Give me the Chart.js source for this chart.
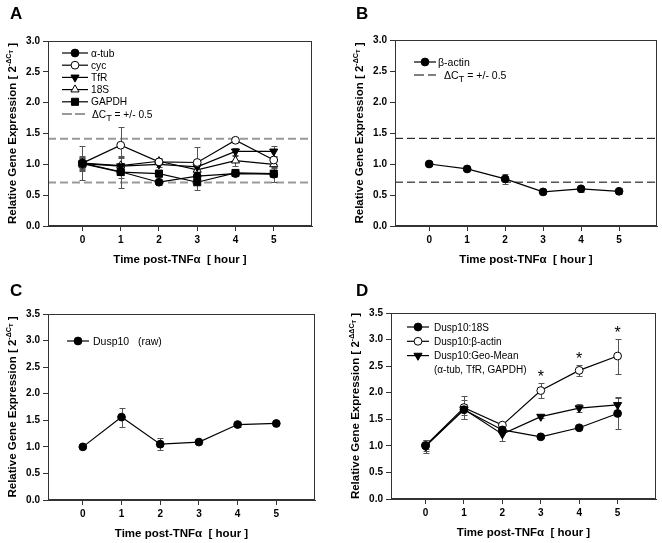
<!DOCTYPE html>
<html><head><meta charset="utf-8">
<script src="https://cdn.jsdelivr.net/npm/chart.js@4/dist/chart.umd.min.js"></script>
<style>
html,body{margin:0;padding:0;background:#fff;}
#wrap{position:relative;width:662px;height:543px;overflow:hidden;background:#fff;}
canvas{position:absolute;}
</style></head><body>
<div id="wrap">
<canvas id="cA" width="331" height="271" style="left:0;top:0"></canvas>
<canvas id="cB" width="331" height="271" style="left:331px;top:0"></canvas>
<canvas id="cC" width="331" height="272" style="left:0;top:271px"></canvas>
<canvas id="cD" width="331" height="272" style="left:331px;top:271px"></canvas>
</div>
<script>
// ---------- data ----------
const hours = [0, 1, 2, 3, 4, 5];
const xTickLabels = ['0', '1', '2', '3', '4', '5'];
const xMin = -0.9, xMax = 6;

// Panel A: reference genes (2^-dCT)
const aTub     = [1.02, 0.88, 0.71, 0.81, 0.85, 0.84];
const aTubErr  = [0.08, 0.26, 0.05, 0.06, 0.04, 0.12];
const cyc      = [1.02, 1.31, 1.04, 1.03, 1.39, 1.07];
const cycErr   = [0.27, 0.29, 0.04, 0.25, 0.03, 0.06];
const tfr      = [1.01, 0.97, 1.00, 0.96, 1.21, 1.21];
const tfrErr   = [0.10, 0.15, 0.05, 0.08, 0.06, 0.09];
const s18      = [1.02, 0.98, 1.05, 0.91, 1.06, 1.00];
const s18Err   = [0.10, 0.12, 0.05, 0.10, 0.08, 0.06];
const gapdh    = [1.01, 0.875, 0.85, 0.71, 0.86, 0.85];
const gapdhErr = [0.12, 0.10, 0.05, 0.13, 0.05, 0.06];
const deltaCtBand = [1.414, 0.707];

// Panel B
const bActin    = [1.00, 0.92, 0.76, 0.55, 0.60, 0.56];
const bActinErr = [0.04, 0.02, 0.08, 0.04, 0.05, 0.05];

// Panel C
const dusp10Raw    = [1.00, 1.56, 1.05, 1.09, 1.42, 1.44];
const dusp10RawErr = [0.02, 0.18, 0.11, 0.02, 0.05, 0.02];

// Panel D (2^-ddCT)
const d18S      = [1.00, 1.68, 1.30, 1.17, 1.34, 1.61];
const d18SErr   = [0.06, 0.10, 0.05, 0.03, 0.03, 0.29];
const dActin    = [1.01, 1.72, 1.39, 2.04, 2.42, 2.69];
const dActinErr = [0.10, 0.22, 0.04, 0.14, 0.10, 0.33];
const dGeo      = [0.99, 1.69, 1.22, 1.55, 1.71, 1.77];
const dGeoErr   = [0.12, 0.18, 0.13, 0.03, 0.08, 0.14];
const significant = [false, false, false, true, true, true];

// ---------- styles ----------
const FONT = '"Liberation Sans", Arial, Helvetica, sans-serif';
const AXIS = '#333';
const ST = {
  filledCircle: {pointStyle:'circle', pointRadius:3.9, pointBackgroundColor:'#000'},
  openCircle:   {pointStyle:'circle', pointRadius:3.9, pointBackgroundColor:'#fff'},
  downTri:      {pointStyle:'triangle', pointRadius:4.7, pointRotation:180, pointBackgroundColor:'#000'},
  upTriOpen:    {pointStyle:'triangle', pointRadius:4.7, pointRotation:0, pointBackgroundColor:'#fff'},
  square:       {pointStyle:'rect', pointRadius:5, pointBackgroundColor:'#000'}
};

function series(label, vals, errs, style) {
  return Object.assign({
    label, data: hours.map((h, i) => ({x: h, y: vals[i]})), errors: errs,
    borderColor: '#000', borderWidth: 1.2, pointBorderColor: '#000', pointBorderWidth: 1,
    pointHoverRadius: 4, tension: 0, fill: false
  }, style);
}

function drawMarker(ctx, ds, x, y) {
  const r = ds.pointRadius, st = ds.pointStyle;
  ctx.save();
  ctx.fillStyle = ds.pointBackgroundColor; ctx.strokeStyle = '#000'; ctx.lineWidth = ds.pointBorderWidth || 1;
  ctx.beginPath();
  if (st === 'circle') ctx.arc(x, y, r, 0, Math.PI * 2);
  else if (st === 'rect') { const s = r * Math.SQRT1_2; ctx.rect(x - s, y - s, 2 * s, 2 * s); }
  else if (st === 'triangle') {
    let a = (ds.pointRotation || 0) * Math.PI / 180;
    ctx.moveTo(x + Math.sin(a) * r, y - Math.cos(a) * r);
    a += 2 * Math.PI / 3; ctx.lineTo(x + Math.sin(a) * r, y - Math.cos(a) * r);
    a += 2 * Math.PI / 3; ctx.lineTo(x + Math.sin(a) * r, y - Math.cos(a) * r);
    ctx.closePath();
  }
  ctx.fill(); ctx.stroke(); ctx.restore();
}

// draw text made of parts with scale (s) and em-offset (dy); align 'left' or 'center'
function drawParts(ctx, parts, x, baseY, size, bold, align) {
  const w = parts.map(p => { ctx.font = (bold ? 'bold ' : '') + (size * (p.s || 1)) + 'px ' + FONT; return ctx.measureText(p.t).width; });
  const total = w.reduce((a, b) => a + b, 0);
  let cx = align === 'center' ? x - total / 2 : x;
  ctx.textBaseline = 'alphabetic'; ctx.textAlign = 'left'; ctx.fillStyle = '#000';
  parts.forEach((p, i) => {
    ctx.font = (bold ? 'bold ' : '') + (size * (p.s || 1)) + 'px ' + FONT;
    ctx.fillText(p.t, cx, baseY + (p.dy || 0) * size);
    cx += w[i];
  });
}

const panelPlugin = {
  id: 'panel',
  beforeDatasetsDraw(chart, args, o) {
    const {ctx, chartArea: ca, scales: {x, y}} = chart;
    if (o.refLines) {
      ctx.save();
      ctx.beginPath(); ctx.rect(ca.left, ca.top, ca.right - ca.left, ca.bottom - ca.top); ctx.clip();
      ctx.strokeStyle = o.refColor; ctx.lineWidth = o.refWidth; ctx.setLineDash(o.refDash);
      o.refLines.forEach(v => {
        const py = y.getPixelForValue(v);
        ctx.beginPath(); ctx.moveTo(ca.left, py); ctx.lineTo(ca.right, py); ctx.stroke();
      });
      ctx.restore();
    }
    ctx.save(); ctx.strokeStyle = '#555'; ctx.lineWidth = 1;
    chart.data.datasets.forEach(ds => {
      if (!ds.errors) return;
      ds.data.forEach((p, i) => {
        const e = ds.errors[i]; if (!e) return;
        const px = Math.round(x.getPixelForValue(p.x)) + 0.5;
        const y1 = Math.round(y.getPixelForValue(p.y + e)) + 0.5, y2 = Math.round(y.getPixelForValue(p.y - e)) + 0.5;
        ctx.beginPath();
        ctx.moveTo(px, y1); ctx.lineTo(px, y2);
        ctx.moveTo(px - 3, y1); ctx.lineTo(px + 3, y1);
        ctx.moveTo(px - 3, y2); ctx.lineTo(px + 3, y2);
        ctx.stroke();
      });
    });
    ctx.restore();
  },
  afterDraw(chart, args, o) {
    const {ctx, chartArea: ca, scales: {x, y}} = chart;
    ctx.save();
    // box
    ctx.strokeStyle = AXIS; ctx.lineWidth = 1;
    ctx.strokeRect(Math.round(ca.left) + 0.5, Math.round(ca.top) + 0.5, Math.round(ca.right - ca.left) - 1, Math.round(ca.bottom - ca.top) - 1);
    // panel letter
    ctx.fillStyle = '#000'; ctx.font = 'bold 17px ' + FONT; ctx.textAlign = 'left'; ctx.textBaseline = 'alphabetic';
    ctx.fillText(o.letter, o.letterX, o.letterY);
    // x title
    drawParts(ctx, [{t: 'Time post-TNF\u03b1  [ hour ]'}], (ca.left + ca.right) / 2, ca.bottom + 37, 11.5, true, 'center');
    // y title
    ctx.save();
    ctx.translate(ca.left - 32, (ca.top + ca.bottom) / 2);
    ctx.rotate(-Math.PI / 2);
    drawParts(ctx, o.yTitle, 0, 0, 11.5, true, 'center');
    ctx.restore();
    // legend
    const L = o.legend;
    L.items.forEach((it, i) => {
      const cy = L.y0 + i * L.dy;
      const base = cy + 0.35 * L.size;
      if (it.ds !== undefined) {
        const ds = chart.data.datasets[it.ds];
        ctx.strokeStyle = '#000'; ctx.lineWidth = 1.2; ctx.setLineDash([]);
        ctx.beginPath(); ctx.moveTo(L.x1, cy); ctx.lineTo(L.x2, cy); ctx.stroke();
        drawMarker(ctx, ds, L.mx, cy);
        drawParts(ctx, [{t: ds.label}], L.tx, base, L.size, false, 'left');
      } else if (it.dashed) {
        ctx.strokeStyle = o.refColor; ctx.lineWidth = o.refWidth; ctx.setLineDash(it.dash);
        ctx.beginPath(); ctx.moveTo(L.x1, cy); ctx.lineTo(it.dx2, cy); ctx.stroke();
        ctx.setLineDash([]);
        drawParts(ctx, it.parts, it.tx, base, L.size, false, 'left');
      } else {
        drawParts(ctx, [{t: it.text}], L.tx, base, L.size, false, 'left');
      }
    });
    // significance stars
    if (o.stars) {
      const ds = chart.data.datasets[o.stars.ds];
      ctx.font = '16px ' + FONT; ctx.textAlign = 'center'; ctx.textBaseline = 'alphabetic'; ctx.fillStyle = '#000';
      ds.data.forEach((p, i) => {
        if (!o.stars.flags[i]) return;
        const px = x.getPixelForValue(p.x);
        const py = y.getPixelForValue(p.y + ds.errors[i]);
        ctx.fillText('*', px, py - 1);
      });
    }
    ctx.restore();
  }
};

function gridCfg() {
  return {display: true, drawOnChartArea: false, drawTicks: true, tickLength: 5, color: AXIS, lineWidth: 1};
}

function makeChart(id, box, ymax, datasets, panelOpts) {
  const cv = document.getElementById(id);
  const cw = cv.width, ch = cv.height;
  return new Chart(cv, {
    type: 'line',
    data: {datasets},
    options: {
      responsive: false, animation: false, devicePixelRatio: 1,
      layout: {padding: {left: 0, top: box.top, right: cw - box.right, bottom: 0}},
      plugins: {legend: {display: false}, tooltip: {enabled: false}, panel: panelOpts},
      scales: {
        x: {
          type: 'linear', min: xMin, max: xMax,
          afterBuildTicks: s => { s.ticks = hours.map(v => ({value: v})); },
          afterFit: s => { s.height = ch - box.bottom; },
          grid: gridCfg(), border: {display: true, color: AXIS, width: 1},
          ticks: {font: {family: FONT, size: 10, weight: 'bold'}, color: '#000', padding: 3, autoSkip: false, maxRotation: 0,
                  callback: v => xTickLabels[hours.indexOf(v)]}
        },
        y: {
          type: 'linear', min: 0, max: ymax,
          afterFit: s => { s.width = box.left; },
          grid: gridCfg(), border: {display: true, color: AXIS, width: 1},
          ticks: {stepSize: 0.5, font: {family: FONT, size: 10, weight: 'bold'}, color: '#000', padding: 3,
                  callback: v => v.toFixed(1)}
        }
      }
    },
    plugins: [panelPlugin]
  });
}

const dCtParts = [{t: '\u0394C'}, {t: 'T', s: 0.9, dy: 0.35}, {t: ' = +/- 0.5'}];
const yTitleD1 = [{t: 'Relative Gene Expression [ 2'}, {t: '-\u0394C', s: 0.62, dy: -0.45}, {t: 'T', s: 0.5, dy: -0.28}, {t: ' ]'}];
const yTitleD2 = [{t: 'Relative Gene Expression [ 2'}, {t: '-\u0394\u0394C', s: 0.62, dy: -0.45}, {t: 'T', s: 0.5, dy: -0.28}, {t: ' ]'}];

makeChart('cA', {left: 48, right: 312, top: 41, bottom: 226}, 3, [
  series('\u03b1-tub', aTub, aTubErr, ST.filledCircle),
  series('cyc', cyc, cycErr, ST.openCircle),
  series('TfR', tfr, tfrErr, ST.downTri),
  series('18S', s18, s18Err, ST.upTriOpen),
  series('GAPDH', gapdh, gapdhErr, ST.square)
], {
  letter: 'A', letterX: 10, letterY: 18.5, yTitle: yTitleD1,
  refLines: deltaCtBand, refColor: '#999', refWidth: 2, refDash: [8, 4],
  legend: {x1: 62, x2: 88, mx: 75, tx: 91, y0: 53, dy: 12.2, size: 10.2,
    items: [{ds: 0}, {ds: 1}, {ds: 2}, {ds: 3}, {ds: 4}, {dashed: true, dash: [10, 3], dx2: 86, tx: 92, parts: dCtParts}]}
});

makeChart('cB', {left: 64, right: 329, top: 40, bottom: 226}, 3, [
  series('\u03b2-actin', bActin, bActinErr, ST.filledCircle)
], {
  letter: 'B', letterX: 25, letterY: 18.5, yTitle: yTitleD1,
  refLines: deltaCtBand, refColor: '#000', refWidth: 1, refDash: [8, 4],
  legend: {x1: 83, x2: 105, mx: 94, tx: 107, y0: 62, dy: 13, size: 10.5,
    items: [{ds: 0}, {dashed: true, dash: [10, 4], dx2: 105, tx: 113, parts: dCtParts}]}
});

makeChart('cC', {left: 48, right: 315, top: 43, bottom: 229}, 3.5, [
  series('Dusp10   (raw)', dusp10Raw, dusp10RawErr, ST.filledCircle)
], {
  letter: 'C', letterX: 10, letterY: 25, yTitle: yTitleD1,
  legend: {x1: 67, x2: 89, mx: 78, tx: 93, y0: 70, dy: 13, size: 10.5, items: [{ds: 0}]}
});

makeChart('cD', {left: 60, right: 325, top: 42, bottom: 228}, 3.5, [
  series('Dusp10:18S', d18S, d18SErr, ST.filledCircle),
  series('Dusp10:\u03b2-actin', dActin, dActinErr, ST.openCircle),
  series('Dusp10:Geo-Mean', dGeo, dGeoErr, ST.downTri)
], {
  letter: 'D', letterX: 25, letterY: 25, yTitle: yTitleD2,
  stars: {ds: 1, flags: significant},
  legend: {x1: 76, x2: 98, mx: 87, tx: 103, y0: 56, dy: 14.3, size: 10,
    items: [{ds: 0}, {ds: 1}, {ds: 2}, {text: '(\u03b1-tub, TfR, GAPDH)'}]}
});
</script>
</body></html>
